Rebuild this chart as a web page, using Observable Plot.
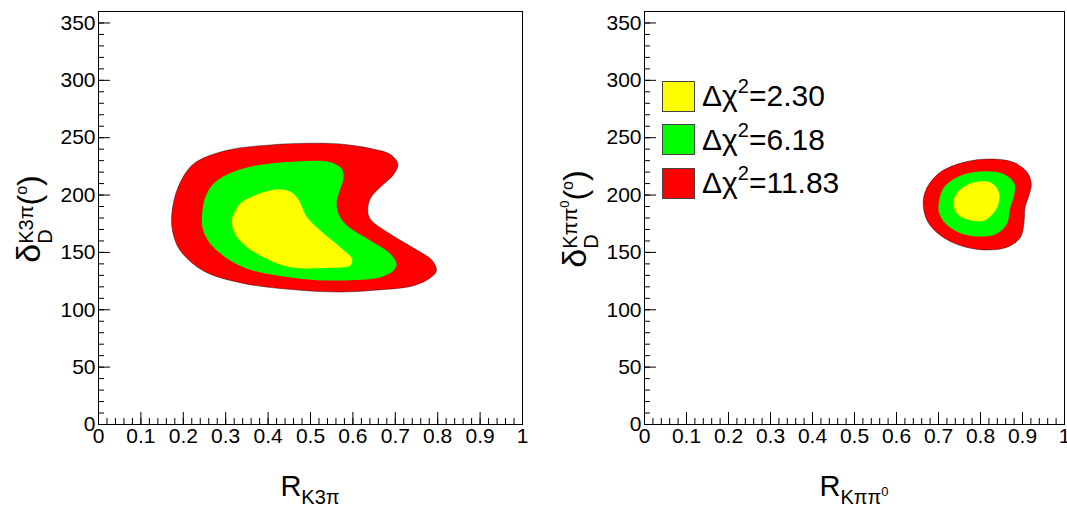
<!DOCTYPE html>
<html><head><meta charset="utf-8">
<script src="https://cdn.jsdelivr.net/npm/d3@7"></script>
<script src="https://cdn.jsdelivr.net/npm/@observablehq/plot@0.6"></script>
<style>
body{margin:0;background:#fff;}
#wrap{position:relative;width:1067px;height:506px;overflow:hidden;font-family:"Liberation Sans",Arial,Helvetica,sans-serif;color:#000;background:#fff;}
.panel{position:absolute;top:0;}
.xt{position:absolute;top:472px;font-size:29px;line-height:29px;white-space:nowrap;transform:translateX(-50%);}
.xt .sb{font-size:20px;position:relative;top:8px;}
.xt .s0{font-size:13px;position:relative;top:-8px;}
.yt{position:absolute;font-size:32px;line-height:32px;white-space:nowrap;transform:translate(-50%,-50%) rotate(-90deg);}
.yt .big{font-size:34px;}
.stk{display:inline-block;font-size:20px;line-height:19px;vertical-align:-12px;}
.stk span.l{display:block;}
.yt .s0{font-size:13px;position:relative;top:-8px;}
.deg{font-size:16px;position:relative;top:-13px;}
.leg{position:absolute;}
.leg .box{position:absolute;width:31px;height:29px;border:1px solid #444;}
.leg .txt{position:absolute;font-size:30px;line-height:30px;white-space:nowrap;}
.leg .txt .sp{font-size:20px;position:relative;top:-13px;}
</style>
</head><body>
<div id="wrap"></div>
<script>
// ---- data: contour boundaries, [R, delta(deg)] ----
const levelText = ["2.30", "6.18", "11.83"];
const levelColors = ["#ffff00", "#00ff00", "#ff0000"];

const k3piRed = [[0.173,184],[0.188,207],[0.224,227],[0.303,239],[0.40,243.5],[0.476,245],[0.57,244.5],[0.649,240],[0.688,235.5],[0.706,227],[0.696,218],[0.665,207],[0.641,197],[0.635,186],[0.641,179],[0.688,166],[0.751,152],[0.787,143],[0.797,134],[0.783,128],[0.743,121],[0.649,117],[0.57,115.5],[0.476,117],[0.342,123],[0.247,134],[0.192,152],[0.175,168]];
const k3piGreen = [[0.244,181],[0.254,200],[0.279,212.5],[0.35,224],[0.468,229.3],[0.547,228.5],[0.574,222.7],[0.578,215.4],[0.569,203.8],[0.562,195],[0.566,183.6],[0.586,173.4],[0.641,160.3],[0.688,148.8],[0.703,140],[0.696,134.2],[0.665,128.4],[0.57,125.5],[0.476,127],[0.342,137],[0.271,154.5],[0.248,168]];
const k3piYellow = [[0.3145,177.7],[0.325,188],[0.342,195],[0.421,205],[0.452,203],[0.47,197],[0.492,180.6],[0.523,169],[0.57,154.5],[0.598,144.4],[0.594,138.6],[0.547,136.6],[0.452,137.1],[0.405,143],[0.35,154.5],[0.322,166]];

const kpipi0Red = [[0.6635,193.7],[0.673,206.7],[0.704,219.8],[0.76,228.5],[0.823,231.4],[0.879,228.5],[0.911,219.8],[0.921,209.7],[0.915,199.5],[0.906,189.3],[0.904,177.7],[0.895,163.2],[0.863,154.5],[0.808,152.2],[0.752,156],[0.705,164.7],[0.673,177.7]];
const kpipi0Green = [[0.701,193.7],[0.713,206.7],[0.752,216.9],[0.8,220.6],[0.855,218.4],[0.881,209.7],[0.879,198],[0.871,189.3],[0.863,174.9],[0.839,166.2],[0.8,163.8],[0.752,166.7],[0.717,174.9],[0.701,185]];
const kpipi0Yellow = [[0.735,193.7],[0.748,203.8],[0.784,211],[0.824,211],[0.844,202.4],[0.84,189.3],[0.816,179.2],[0.789,177.1],[0.752,181.2],[0.738,187.9]];

const xTicks = [0,0.1,0.2,0.3,0.4,0.5,0.6,0.7,0.8,0.9,1];
const yTicks = [0,50,100,150,200,250,300,350];

// ---- drawing ----
const FONT = '"Liberation Sans", Arial, Helvetica, sans-serif';
const xMinor = d3.range(0, 51).map(i => i / 50);
const yMinor = d3.range(0, 36).map(i => i * 10);

function makePanel(contours, {width, marginLeft, marginRight}) {
  return Plot.plot({
    width, height: 506, marginLeft, marginRight, marginTop: 11, marginBottom: 82,
    x: {domain: [0, 1]},
    y: {domain: [0, 360]},
    style: {fontFamily: FONT, fontSize: "21px", background: "transparent", overflow: "visible", color: "black"},
    marks: [
      ...contours.map(([pts, color], i) => Plot.line(pts, {
        x: d => d[0], y: d => d[1], curve: "catmull-rom-closed",
        fill: color, stroke: i === 0 ? "#000" : "none", strokeOpacity: 0.55, strokeWidth: 0.8
      })),
      Plot.axisX(xMinor, {tickSize: -6, tickFormat: () => "", label: null}),
      Plot.axisX(xTicks, {tickSize: -12, tickPadding: 16, label: null, tickFormat: d => String(+d.toFixed(2))}),
      Plot.axisY(yMinor, {tickSize: -6, tickFormat: () => "", label: null}),
      Plot.axisY(yTicks, {tickSize: -12, tickPadding: 15, label: null, tickFormat: d => String(d)}),
      Plot.frame({stroke: "black", strokeWidth: 1})
    ]
  });
}

const wrap = document.getElementById("wrap");
const left = makePanel([[k3piRed, levelColors[2]], [k3piGreen, levelColors[1]], [k3piYellow, levelColors[0]]],
  {width: 533, marginLeft: 98, marginRight: 11});
left.classList.add("panel"); left.style.left = "0px";
wrap.appendChild(left);

const right = makePanel([[kpipi0Red, levelColors[2]], [kpipi0Green, levelColors[1]], [kpipi0Yellow, levelColors[0]]],
  {width: 534, marginLeft: 111, marginRight: 3});
right.classList.add("panel"); right.style.left = "533px";
wrap.appendChild(right);

function addHTML(html) { wrap.insertAdjacentHTML("beforeend", html); }

// axis titles
addHTML(`<div class="xt" style="left:310px">R<span class="sb">K3π</span></div>`);
addHTML(`<div class="xt" style="left:854px">R<span class="sb">Kππ<span class="s0">0</span></span></div>`);
addHTML(`<div class="yt" style="left:33px;top:219px"><span class="big">δ</span><span class="stk"><span class="l">K3π</span><span class="l">D</span></span>(<span class="deg">o</span>)</div>`);
addHTML(`<div class="yt" style="left:579px;top:219px"><span class="big">δ</span><span class="stk"><span class="l">Kππ<span class="s0">0</span></span><span class="l">D</span></span>(<span class="deg">o</span>)</div>`);

// legend
const legTops = [80.7, 124.3, 167.7];
levelColors.forEach((c, i) => {
  addHTML(`<div class="leg" style="left:662px;top:${legTops[i]}px">
    <div class="box" style="left:0;top:0;background:${c}"></div>
    <div class="txt" style="left:40px;top:0.5px">Δχ<span class="sp">2</span>=${levelText[i]}</div></div>`);
});
</script>
</body></html>
